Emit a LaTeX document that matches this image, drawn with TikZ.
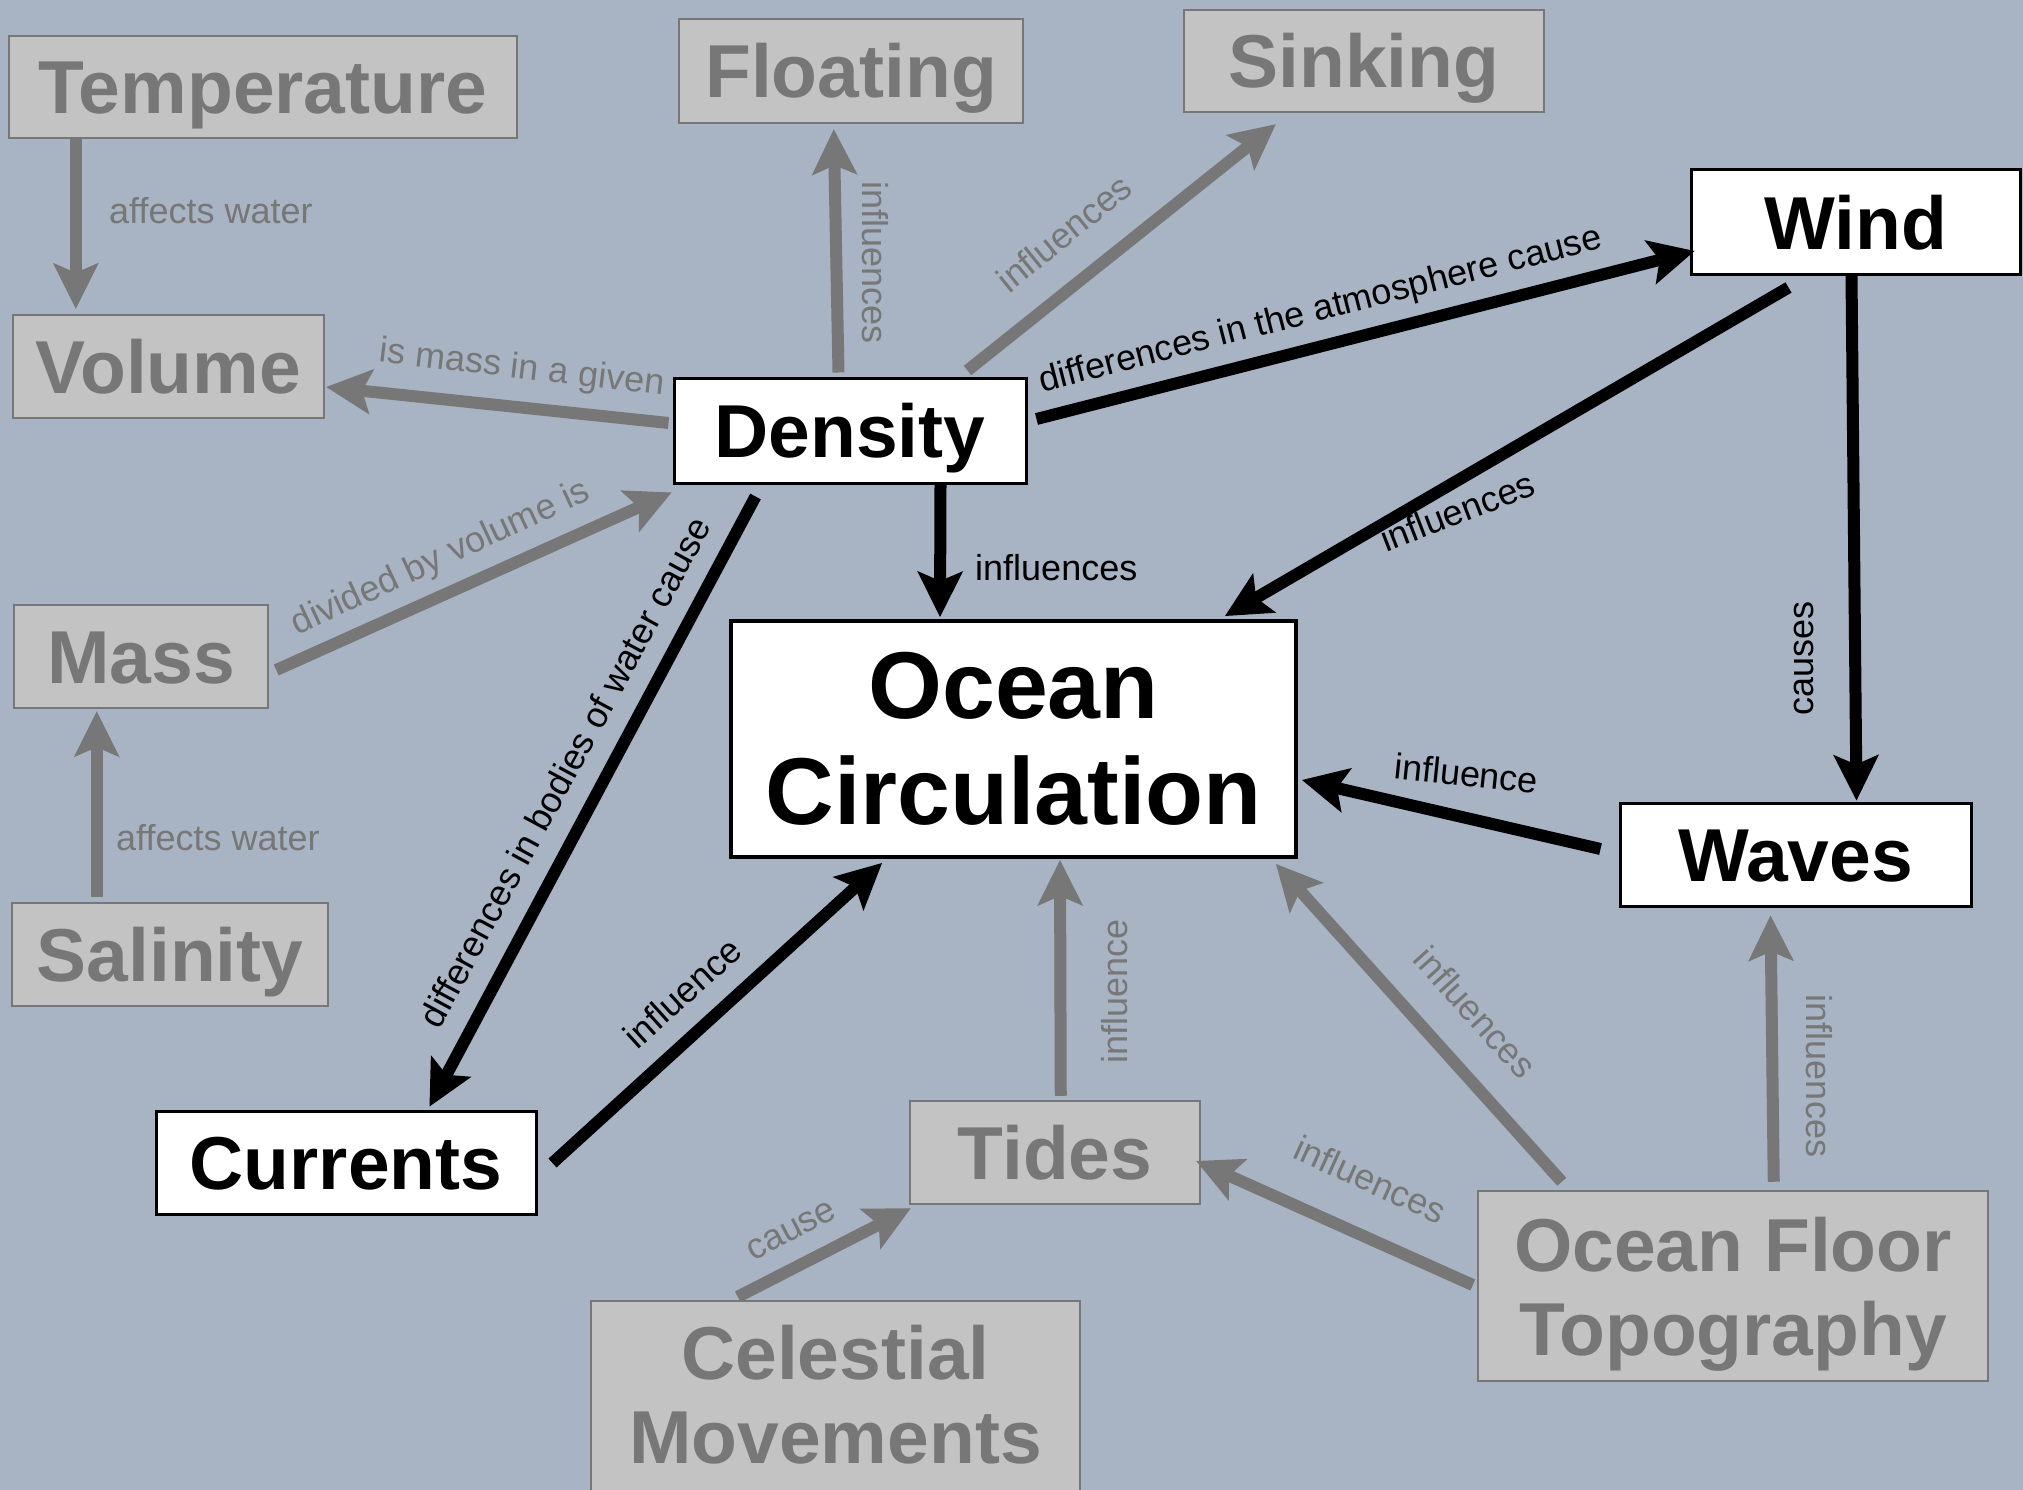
\documentclass[tikz,border=0pt]{standalone}
\usepackage{fontspec}
\setmainfont{Liberation Sans}
\usetikzlibrary{arrows.meta,calc}

\definecolor{sea}{HTML}{A8B4C3}
\definecolor{mute}{HTML}{777777}
\definecolor{mutefill}{HTML}{C3C3C3}

\newcommand\titlefont{\bfseries\fontsize{75pt}{84pt}\selectfont}
\newcommand\bigtitlefont{\bfseries\fontsize{95pt}{106pt}\selectfont}
\newcommand\linkfont{\fontsize{36pt}{40pt}\selectfont}

\tikzset{
  concept/.style={rectangle, inner sep=0pt, align=center, font=\titlefont},
  keybox/.style={concept, draw=black, line width=3pt, fill=white, text=black},
  sidebox/.style={concept, draw=mute, line width=2.5pt, fill=mutefill, text=mute},
  oneline/.style={text height=54pt, text depth=0pt},
  tip/.style={-{Stealth[length=46pt,width=46pt,inset=10pt,line width=0pt]}},
  keylink/.style={tip, draw=black, line width=12pt},
  sidelink/.style={tip, draw=mute, line width=12pt},
  keylabel/.style={inner sep=0pt, anchor=base, font=\linkfont, text=black},
  sidelabel/.style={keylabel, text=mute},
}

\begin{document}
\begin{tikzpicture}[x=1pt, y=-1pt]
\useasboundingbox (0,0) rectangle (2023,1490);
\clip (0,0) rectangle (2023,1490);
\fill[sea] (0,0) rectangle (2023,1490);

% concepts
\node[sidebox, oneline, minimum width=508pt, minimum height=102pt] (temp) at (263,87) {Temperature};
\node[sidebox, oneline, minimum width=344pt, minimum height=104pt] (float) at (851,71) {Floating};
\node[sidebox, oneline, minimum width=360pt, minimum height=102pt] (sink) at (1364,61) {Sinking};
\node[keybox, oneline, minimum width=329pt, minimum height=104pt] (wind) at (1855.5,222) {Wind};
\node[sidebox, oneline, minimum width=311pt, minimum height=103pt] (vol) at (168.5,366.5) {Volume};
\node[keybox, oneline, minimum width=352pt, minimum height=105pt] (dens) at (850,430.5) {Density};
\node[keybox, line width=4pt, font=\bigtitlefont, minimum width=565pt, minimum height=236pt] (ocean) at (1013.5,739) {Ocean\\Circulation};
\node[sidebox, oneline, minimum width=254pt, minimum height=103pt] (mass) at (141,656.5) {Mass};
\node[sidebox, oneline, minimum width=316pt, minimum height=103pt] (sal) at (170,954.5) {Salinity};
\node[keybox, oneline, minimum width=380pt, minimum height=103pt] (curr) at (346,1162.5) {Currents};
\node[keybox, oneline, minimum width=351pt, minimum height=103pt] (waves) at (1795.5,854.5) {Waves};
\node[sidebox, oneline, minimum width=290pt, minimum height=103pt] (tides) at (1055,1152.5) {Tides};
\node[sidebox, minimum width=510pt, minimum height=190pt] (floor) at (1733,1286) {Ocean Floor\\\raisebox{0pt}[\height][0pt]{Topography}};
\node[sidebox, minimum width=489pt, minimum height=199pt] (cel) at (835.5,1400.5) {};
\node[concept, text=mute] (celtext) at (835.5,1394.5) {Celestial\\Movements};

% links
\draw[sidelink] ($(temp.south west)+(68,0)$) -- ($(vol.north west)+(64,-5)$);
\draw[sidelink] ($(dens.west)+(-4,-7.5)$) -- ($(vol.east)+(1,20.5)$);
\draw[sidelink] ($(mass.east)+(7,13.5)$) -- ($(dens.south west)+(-1,8)$);
\draw[sidelink] ($(sal.north west)+(86,-5)$) -- ($(mass.south west)+(84,2)$);
\draw[sidelink] ($(dens.north west)+(166,-4)$) -- ($(float.south west)+(156,5)$);
\draw[sidelink] ($(dens.north west)+(295,-6)$) -- ($(sink.south west)+(93,11)$);
\draw[keylink] ($(dens.east)+(9,-11.5)$) -- ($(wind.west)+(5,29)$);
\draw[keylink] ($(wind.south west)+(99,12)$) -- ($(ocean.north west)+(496,-3)$);
\draw[keylink] ($(dens.south west)+(268,0)$) -- ($(ocean.north west)+(211,-2)$);
\draw[keylink] ($(dens.south west)+(83,12)$) -- ($(curr.north west)+(275,-3)$);
\draw[keylink] ($(curr.east)+(15,0.5)$) -- ($(ocean.south west)+(153,4)$);
\draw[keylink] ($(waves.west)+(-18,-5.5)$) -- ($(ocean.east)+(4,41)$);
\draw[keylink] ($(wind.south west)+(162,0)$) -- ($(waves.north west)+(238,-1)$);
\draw[sidelink] ($(floor.north west)+(297,-8)$) -- ($(waves.south west)+(152,8)$);
\draw[sidelink] ($(floor.north west)+(85,-8)$) -- ($(ocean.south east)+(-22,5)$);
\draw[sidelink] ($(floor.west)+(-4,-1)$) -- ($(tides.east)+(-5,8.5)$);
\draw[sidelink] ($(tides.north west)+(152,-4)$) -- ($(ocean.south west)+(331,1)$);
\draw[sidelink] ($(cel.north west)+(148,-3)$) -- ($(tides.south west)+(2,3)$);

% link phrases
\node[sidelabel, anchor=base west] (l1) at (109,223) {affects water};
\node[sidelabel, rotate=-6.7] (l2) at (521,378.5) {is mass in a given};
\node[sidelabel, rotate=24.9] (l3) at (445,567) {divided by volume is};
\node[sidelabel, anchor=base west] (l4) at (116,850) {affects water};
\node[sidelabel, rotate=-90] (l5) at (862,262.5) {influences};
\node[sidelabel, rotate=39] (l6) at (1072,243) {influences};
\node[keylabel, rotate=14.4] (l7) at (1323,320) {differences in the atmosphere cause};
\node[keylabel, rotate=21] (l8) at (1462,523) {influences};
\node[keylabel, anchor=base west] (l9) at (975,580) {influences};
\node[keylabel, rotate=61.6] (l10) at (576,778) {differences in bodies of water cause};
\node[keylabel, rotate=42.2] (l11) at (691,1002) {influence};
\node[keylabel, rotate=-6] (l12) at (1465,786) {influence};
\node[keylabel, rotate=90] (l13) at (1813,658.5) {causes};
\node[sidelabel, rotate=-90] (l14) at (1806,1076) {influences};
\node[sidelabel, rotate=-48] (l15) at (1466,1021) {influences};
\node[sidelabel, rotate=-24.4] (l16) at (1365,1191) {influences};
\node[sidelabel, rotate=90] (l17) at (1127,991) {influence};
\node[sidelabel, rotate=27.6] (l18) at (796,1239) {cause};
\end{tikzpicture}
\end{document}
